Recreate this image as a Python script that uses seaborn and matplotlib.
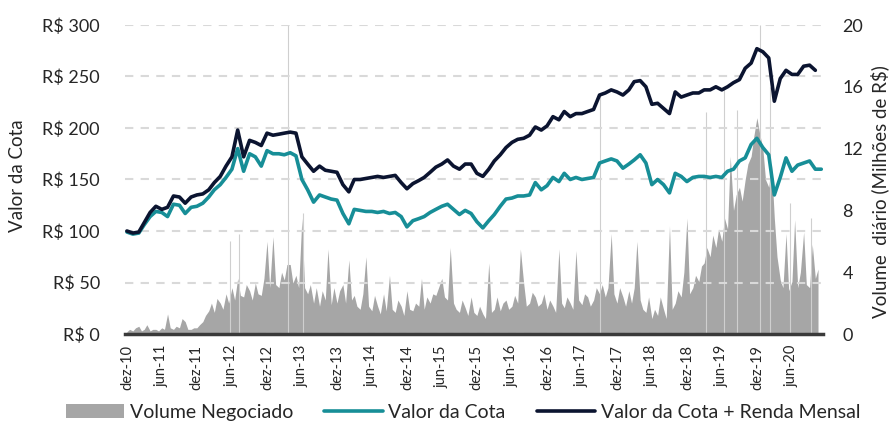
import numpy as np
import pandas as pd
import matplotlib.pyplot as plt
from matplotlib.patches import Patch
from matplotlib.lines import Line2D
import seaborn as sns

# ==========================================================
# DATA (monthly closes, R$)
# ==========================================================
cota = [
    99, 97, 98, 106, 114, 119, 118, 114, 126, 125, 117, 123,
    124, 127, 133, 140, 145, 152, 160, 180, 158, 175, 172, 163,
    178, 175, 175, 174, 176, 173, 150, 140, 128, 135, 133, 131,
    130, 117, 107, 121, 120, 119, 119, 118, 119, 117, 118, 114,
    104, 110, 112, 114, 118, 121, 124, 126, 121, 116, 120, 117,
    109, 103, 110, 116, 124, 131, 132, 134, 134, 135, 147, 140,
    144, 152, 148, 156, 150, 152, 150, 151, 152, 166, 168, 170,
    168, 161, 165, 169, 174, 166, 145, 150, 145, 137, 156, 153,
    148, 152, 153, 153, 152, 153, 152, 158, 160, 168, 171, 184,
    190, 181, 174, 135, 152, 171, 158, 164, 166, 168, 160, 160,
]

cota_renda = [
    100, 98, 99, 108, 118, 124, 121, 123, 134, 133, 127, 133,
    135, 136, 140, 147, 153, 163, 172, 198, 172, 188, 186, 183,
    195, 193, 194, 195, 196, 195, 172, 165, 158, 163, 159, 158,
    157, 145, 138, 150, 150, 151, 152, 153, 152, 153, 154, 147,
    141, 146, 149, 152, 157, 162, 165, 169, 163, 160, 165, 165,
    156, 153, 160, 168, 174, 181, 186, 189, 190, 193, 201, 198,
    202, 211, 208, 216, 211, 214, 214, 216, 218, 232, 234, 237,
    235, 232, 237, 245, 246, 240, 223, 224, 219, 214, 235, 230,
    232, 234, 234, 237, 237, 240, 237, 240, 244, 247, 258, 263,
    277, 274, 268, 226, 248, 256, 252, 252, 260, 261, 256,
]

# half-monthly traded volume (R$ millions)
volume = [
    0.15, 0.3, 0.2, 0.4, 0.5, 0.2, 0.3, 0.6, 0.2, 0.3, 0.3, 0.2,
    0.4, 0.3, 1.3, 0.4, 0.3, 0.5, 0.4, 1.0, 0.8, 0.3, 0.3, 0.4,
    0.4, 0.6, 0.8, 1.2, 1.5, 2.0, 1.4, 2.3, 2.0, 1.6, 2.6, 2.0,
    3.0, 2.2, 3.6, 2.5, 2.4, 3.2, 2.8, 2.2, 3.3, 2.6, 2.5, 3.6,
    6.0, 3.0, 6.3, 3.2, 3.0, 4.0, 3.5, 4.5, 4.5, 3.3, 3.8, 3.0,
    7.5, 3.0, 2.6, 3.2, 2.0, 3.0, 1.8, 2.8, 2.2, 5.5, 1.9, 3.0,
    2.0, 2.8, 3.2, 2.0, 4.8, 2.2, 2.5, 1.8, 1.6, 2.6, 5.0, 1.8,
    1.5, 2.5, 1.8, 1.3, 2.6, 1.5, 3.8, 1.6, 1.4, 2.2, 1.8, 1.2,
    2.8, 1.6, 1.5, 2.0, 1.8, 3.6, 1.6, 2.4, 2.0, 2.6, 2.5, 3.0,
    3.6, 2.4, 2.2, 5.6, 2.0, 1.6, 1.4, 2.2, 1.7, 1.2, 2.4, 1.4,
    1.2, 1.8, 1.3, 1.0, 4.6, 1.4, 1.6, 2.4, 1.5, 2.0, 2.2, 1.6,
    1.8, 2.5, 2.0, 5.5, 3.3, 1.8, 2.0, 2.7, 2.4, 1.8, 2.0, 2.6,
    1.6, 2.2, 1.8, 1.4, 5.5, 2.0, 1.7, 2.4, 2.0, 1.6, 5.4, 2.2,
    1.9, 2.6, 2.4, 1.8, 2.2, 3.0, 2.6, 3.2, 2.4, 3.0, 6.5, 2.6,
    2.0, 3.0, 2.4, 1.8, 2.8, 2.0, 3.0, 6.0, 2.2, 1.6, 1.4, 2.4,
    1.0, 1.6, 1.2, 2.4, 1.6, 1.0, 7.0, 1.6, 2.0, 2.8, 2.4, 4.0,
    7.5, 2.6, 3.0, 3.8, 3.4, 4.4, 4.6, 5.6, 5.0, 6.4, 5.6, 6.8,
    6.0, 7.5, 6.8, 11.5, 8.0, 9.0, 9.5, 8.6, 10.0, 11.0, 11.5, 12.8,
    14.0, 13.0, 12.0, 10.0, 9.5, 11.0, 7.5, 5.0, 3.5, 3.0, 6.5, 2.8,
    3.4, 7.4, 3.0, 4.0, 6.6, 3.2, 3.0, 5.8, 3.6, 4.2,
]

# isolated single-day volume spikes
spike_dates = ["2012-05-20", "2012-07-10", "2013-03-20", "2013-06-05",
               "2017-09-05", "2019-03-10", "2019-06-15", "2019-08-20",
               "2019-12-18", "2020-02-05", "2020-05-20", "2020-09-10"]
spike_vals = [6.0, 6.5, 20.0, 7.8, 15.5, 14.4, 16.0, 14.5, 20.0, 16.0, 8.5, 7.5]

tick_labels = ["dez-10", "jun-11", "dez-11", "jun-12", "dez-12", "jun-13",
               "dez-13", "jun-14", "dez-14", "jun-15", "dez-15", "jun-16",
               "dez-16", "jun-17", "dez-17", "jun-18", "dez-18", "jun-19",
               "dez-19", "jun-20"]

# ==========================================================
# STYLE
# ==========================================================
sns.set_theme(style="white")
plt.rcParams["font.family"] = ["Lato", "DejaVu Sans"]

TEAL = "#178e97"
NAVY = "#0b1430"
GRAY = "#a6a6a6"

dates_cota = pd.date_range("2010-12-01", periods=len(cota), freq="MS")
dates_renda = dates_cota[:len(cota_renda)]
dates_vol = pd.date_range("2010-12-01", periods=len(volume), freq="SMS")
tick_dates = pd.date_range("2010-12-01", periods=len(tick_labels), freq="6MS")

fig = plt.figure(figsize=(8.93, 4.23), dpi=100)
ax = fig.add_axes([125 / 893, 89 / 423, 698 / 893, 309 / 423])
ax2 = ax.twinx()
ax.set_zorder(ax2.get_zorder() + 1)
ax.patch.set_visible(False)

# volume (right axis)
ax2.fill_between(dates_vol, volume, color=GRAY, lw=0)
ax2.vlines(pd.to_datetime(spike_dates), 0, spike_vals, color="#cfcfcf", lw=0.8)
ax2.set_ylim(0, 20)
ax2.set_yticks(range(0, 21, 4))
ax2.tick_params(axis="y", length=0, pad=14, labelsize=13)

# prices (left axis)
sns.lineplot(x=dates_cota, y=cota, ax=ax, color=TEAL, lw=2.6)
sns.lineplot(x=dates_renda, y=cota_renda, ax=ax, color=NAVY, lw=2.6)
ax.set_ylim(0, 300)
ax.set_yticks(range(0, 301, 50))
ax.set_yticklabels([f"R$ {v}" for v in range(0, 301, 50)])
ax.tick_params(axis="y", length=0, pad=18, labelsize=13)

ax.set_xlim(pd.Timestamp("2010-11-21"), pd.Timestamp("2020-11-10"))
ax.set_xticks(tick_dates)
ax.set_xticklabels(tick_labels, rotation=90)
ax.tick_params(axis="x", length=0, pad=8, labelsize=10.5)

ax.yaxis.grid(True, color="#d9d9d9", ls=(0, (4, 3.5)), lw=1.5)
ax.set_axisbelow(True)

for s in ["top", "left", "right"]:
    ax.spines[s].set_visible(False)
for s in ax2.spines.values():
    s.set_visible(False)
ax.spines["bottom"].set_color("#3a3a3a")
ax.spines["bottom"].set_linewidth(2.5)
ax.set_xlabel("")
ax.set_ylabel("")
ax2.set_ylabel("")

fig.text(18 / 893, 1 - 176 / 423, "Valor da Cota", rotation=90,
         ha="center", va="center", fontsize=13.5)
fig.text(880 / 893, 1 - 192 / 423, "Volume  diário (Milhões de R$)", rotation=90,
         ha="center", va="center", fontsize=13.5)

handles = [
    Patch(facecolor=GRAY, edgecolor="none", label="Volume Negociado"),
    Line2D([0], [0], color=TEAL, lw=2.6, label="Valor da Cota"),
    Line2D([0], [0], color=NAVY, lw=2.6, label="Valor da Cota + Renda Mensal"),
]
fig.legend(handles=handles, loc="center", bbox_to_anchor=(463 / 893, 1 - 412 / 423),
           ncol=3, frameon=False, fontsize=14, handlelength=3.0,
           handletextpad=0.3, columnspacing=1.6)

plt.savefig("out.png", dpi=100)
